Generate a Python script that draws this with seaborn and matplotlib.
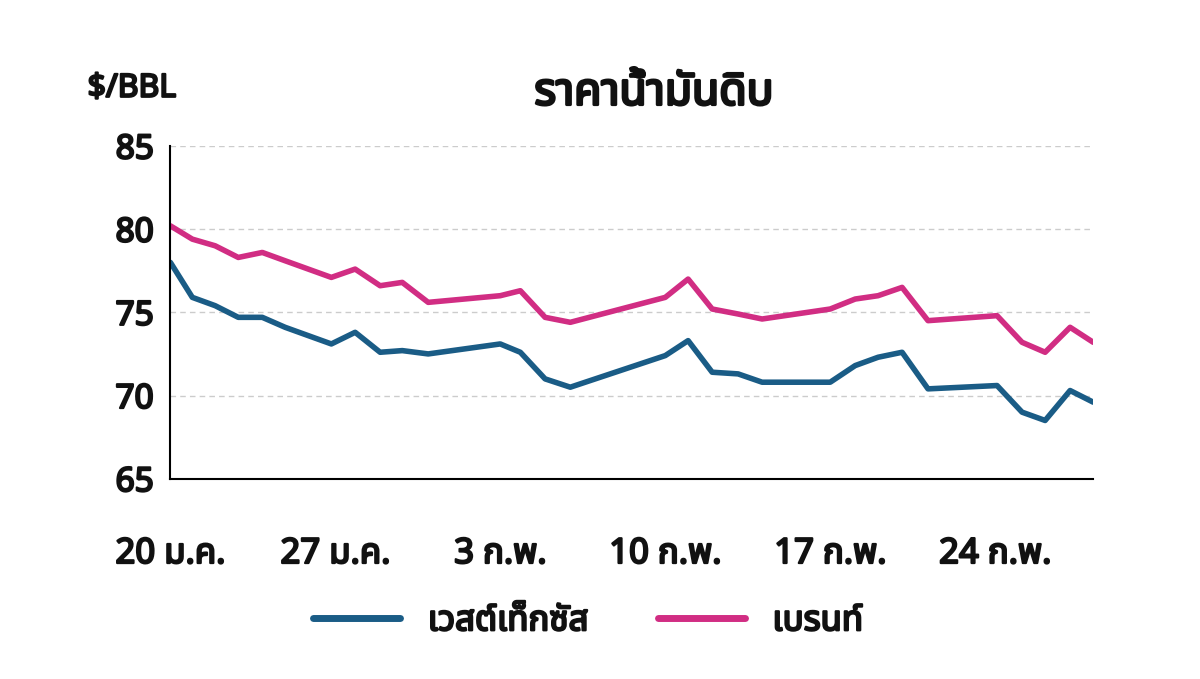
import matplotlib
matplotlib.use("Agg")
import matplotlib.pyplot as plt
import matplotlib.patheffects as pe
import seaborn as sns
import pandas as pd
from matplotlib.lines import Line2D

sns.set_style("white")
plt.rcParams['font.family'] = ['Noto Sans Thai', 'Noto Sans', 'DejaVu Sans']

days = [0, 0.93, 1.9, 2.88, 3.9, 4.87, 6.83, 7.84, 8.9, 9.84, 10.94, 13.997, 14.85, 15.9, 16.97, 21.0, 21.97, 22.99, 24.09, 25.11, 28.0, 29.06, 30.03, 31.05, 32.15, 35.08, 36.14, 37.12, 38.18, 39.16]
wti = [78.0, 75.9, 75.4, 74.7, 74.7, 74.1, 73.1, 73.8, 72.6, 72.7, 72.5, 73.1, 72.6, 71.0, 70.5, 72.4, 73.3, 71.4, 71.3, 70.8, 70.8, 71.8, 72.3, 72.6, 70.4, 70.6, 69.0, 68.5, 70.3, 69.6]
brent = [80.2, 79.4, 79.0, 78.3, 78.6, 78.1, 77.1, 77.6, 76.6, 76.8, 75.6, 76.0, 76.3, 74.7, 74.4, 75.9, 77.0, 75.2, 74.9, 74.6, 75.2, 75.8, 76.0, 76.5, 74.5, 74.8, 73.2, 72.6, 74.1, 73.2]
tick_pos = [0, 7, 14, 21, 28, 35]
tick_labels = ["20 ม.ค.", "27 ม.ค.", "3 ก.พ.", "10 ก.พ.", "17 ก.พ.", "24 ก.พ."]
series_names = ["เวสต์เท็กซัส", "เบรนท์"]

df = pd.concat([
    pd.DataFrame({"day": days, "price": wti, "s": series_names[0]}),
    pd.DataFrame({"day": days, "price": brent, "s": series_names[1]}),
])

bold = [pe.withStroke(linewidth=1.6, foreground='#111111')]

fig = plt.figure(figsize=(12, 6.79), dpi=100)
ax = fig.add_axes([0.142, 0.295, 0.769, 0.49])
sns.lineplot(data=df, x="day", y="price", hue="s", palette=["#1a5c86", "#d12d83"],
             linewidth=4, ax=ax, legend=False)
ax.set_xlim(0, 39.16)
ax.set_ylim(65, 85)
ax.set_yticks([65, 70, 75, 80, 85])
ax.set_xticks(tick_pos)
ax.set_xticklabels(tick_labels)
ax.tick_params(axis='y', labelsize=24, length=0, pad=12, labelcolor='#111111')
ax.tick_params(axis='x', labelsize=25, length=8, direction='in', width=1.5, pad=42, labelcolor='#111111')
for l in ax.get_xticklabels() + ax.get_yticklabels():
    l.set_fontweight('bold')
    l.set_path_effects(bold)
ax.yaxis.grid(True, linestyle=(0, (4, 3)), color='#cccccc', linewidth=1)
for s in ['top', 'right']:
    ax.spines[s].set_visible(False)
for s in ['left', 'bottom']:
    ax.spines[s].set_linewidth(1.5)
    ax.spines[s].set_color('black')
ax.set_xlabel("")
ax.set_ylabel("")
fig.text(0.073, 0.87, "$/BBL", fontsize=23, fontweight='bold', ha='left', va='center',
         color='#111111', path_effects=bold)
fig.text(0.545, 0.862, "ราคาน้ำมันดิบ", fontsize=32, fontweight='bold', ha='center', va='center',
         color='#111111', path_effects=[pe.withStroke(linewidth=2, foreground='#111111')])
handles = [Line2D([], [], color="#1a5c86", lw=5), Line2D([], [], color="#d12d83", lw=5)]
leg = fig.legend(handles, series_names, loc='center', bbox_to_anchor=(0.49, 0.085), ncol=2,
                 frameon=False, handlelength=2.5, columnspacing=2,
                 prop={'weight': 'bold', 'size': 25})
for t in leg.get_texts():
    t.set_color('#111111')
    t.set_path_effects(bold)
fig.savefig("out.png", dpi=100)
